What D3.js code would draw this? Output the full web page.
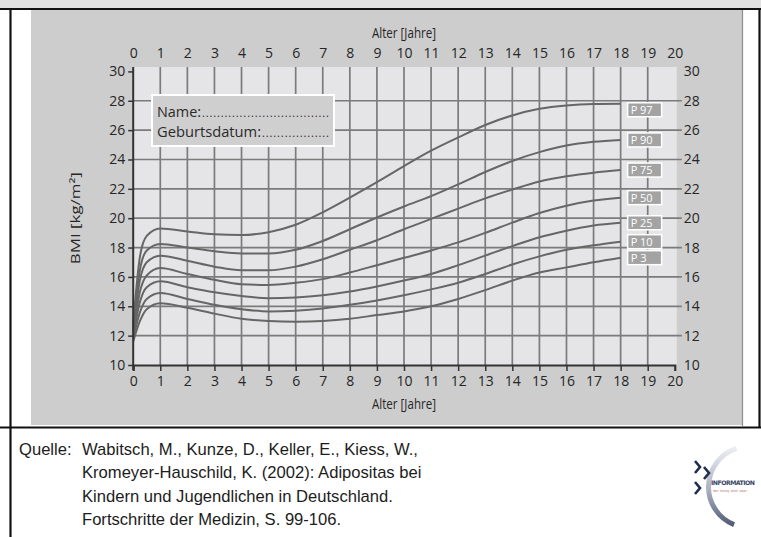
<!DOCTYPE html>
<html>
<head>
<meta charset="utf-8">
<script src="https://cdn.jsdelivr.net/npm/d3@7"></script>
<style>
  body { margin: 0; background: #ffffff; }
  svg { display: block; }
</style>
</head>
<body>
<svg id="chart" width="761" height="537"></svg>
<script>
// BMI percentile curves (Kromeyer-Hauschild), age in years
const ages = [0, 0.25, 0.5, 1, 2, 3, 4, 5, 6, 7, 8, 9, 10, 11, 12, 13, 14, 15, 16, 17, 18];
const p3  = [11.6, 13.0, 13.8, 14.2, 13.9, 13.5, 13.15, 13.0, 12.95, 13.0, 13.15, 13.4, 13.65, 14.0, 14.5, 15.1, 15.75, 16.3, 16.65, 17.0, 17.31];
const p10 = [11.8, 13.6, 14.5, 14.9, 14.5, 14.1, 13.8, 13.65, 13.7, 13.85, 14.1, 14.4, 14.75, 15.15, 15.6, 16.2, 16.85, 17.4, 17.85, 18.15, 18.4];
const p25 = [12.0, 14.3, 15.3, 15.7, 15.3, 14.95, 14.7, 14.55, 14.6, 14.75, 15.0, 15.35, 15.75, 16.2, 16.8, 17.45, 18.1, 18.7, 19.15, 19.5, 19.69];
const p50 = [12.2, 15.0, 16.1, 16.6, 16.2, 15.8, 15.5, 15.45, 15.6, 15.85, 16.3, 16.8, 17.3, 17.8, 18.35, 19.0, 19.7, 20.35, 20.85, 21.2, 21.4];
const p75 = [12.4, 15.8, 17.0, 17.45, 17.1, 16.7, 16.45, 16.45, 16.7, 17.2, 17.85, 18.5, 19.25, 19.95, 20.65, 21.35, 21.95, 22.5, 22.85, 23.1, 23.28];
const p90 = [12.6, 16.5, 17.8, 18.25, 18.0, 17.75, 17.6, 17.6, 17.85, 18.45, 19.25, 20.05, 20.8, 21.5, 22.3, 23.15, 23.9, 24.5, 24.95, 25.2, 25.33];
const p97 = [12.8, 17.4, 18.8, 19.3, 19.1, 18.9, 18.85, 19.05, 19.55, 20.4, 21.4, 22.45, 23.55, 24.6, 25.5, 26.35, 27.0, 27.45, 27.68, 27.78, 27.8];

const seriesNames = ["P 3", "P 10", "P 25", "P 50", "P 75", "P 90", "P 97"];
const seriesValues = [p3, p10, p25, p50, p75, p90, p97];

const xTicks = d3.range(0, 21);            // 0 .. 20 years
const yTicks = d3.range(10, 31, 2);         // 10 .. 30 kg/m²
const xTitle = "Alter [Jahre]";
const yTitle = "BMI [kg/m²]";
const nameLines = ["Name:", "Geburtsdatum:"];
const sourceLines = [
  "Wabitsch, M., Kunze, D., Keller, E., Kiess, W.,",
  "Kromeyer-Hauschild, K. (2002): Adipositas bei",
  "Kindern und Jugendlichen in Deutschland.",
  "Fortschritte der Medizin, S. 99-106."
];

const svg = d3.select("#chart");
const FONT = "'Open Sans', 'Noto Sans', sans-serif";

const x = d3.scaleLinear().domain([0, 20]).range([133.2, 674.8]);
const y = d3.scaleLinear().domain([10, 30]).range([365, 71.4]);

const plotTop = y(30) - 4.4;
const plotRight = x(20) + 2;

// frame
svg.append("rect").attr("x", 0).attr("y", 0).attr("width", 761).attr("height", 8.5).attr("fill", "#e1e1e1");
svg.append("rect").attr("x", 31).attr("y", 10).attr("width", 711).attr("height", 415).attr("fill", "#cdcdcd");
svg.append("line").attr("x1", 742.5).attr("x2", 742.5).attr("y1", 10).attr("y2", 426).attr("stroke", "#8c8c8c").attr("stroke-width", 1.2);
svg.append("line").attr("x1", 0).attr("x2", 761).attr("y1", 9).attr("y2", 9).attr("stroke", "#111").attr("stroke-width", 2.2);
svg.append("line").attr("x1", 0).attr("x2", 761).attr("y1", 427.5).attr("y2", 427.5).attr("stroke", "#111").attr("stroke-width", 2.2);
svg.append("line").attr("x1", 10.5).attr("x2", 10.5).attr("y1", 8).attr("y2", 537).attr("stroke", "#111").attr("stroke-width", 2.2);
svg.append("line").attr("x1", 759.5).attr("x2", 759.5).attr("y1", 8).attr("y2", 428).attr("stroke", "#111").attr("stroke-width", 2.2);

// plot background
svg.append("rect")
  .attr("x", x(0)).attr("y", plotTop)
  .attr("width", plotRight - x(0)).attr("height", y(10) - plotTop)
  .attr("fill", "#e5e5e7");

const grid = svg.append("g").attr("stroke", "#7b7b7b").attr("stroke-width", 1.7);
grid.selectAll("line.v").data(xTicks.filter(d => d > 0 && d < 20)).join("line")
  .attr("class", "v")
  .attr("x1", d => x(d)).attr("x2", d => x(d))
  .attr("y1", plotTop).attr("y2", y(10));
grid.selectAll("line.h").data(yTicks.filter(d => d > 10 && d < 30)).join("line")
  .attr("class", "h")
  .attr("x1", x(0)).attr("x2", plotRight + 5)
  .attr("y1", d => y(d)).attr("y2", d => y(d));

// percentile curves
const line = d3.line()
  .x(d => x(d[0]))
  .y(d => y(d[1]))
  .curve(d3.curveMonotoneX);

svg.append("g").selectAll("path").data(seriesValues).join("path")
  .attr("d", vals => line(ages.map((a, i) => [a, vals[i]])))
  .attr("fill", "none")
  .attr("stroke", "#666")
  .attr("stroke-width", 2);

// percentile tags at the curve ends
const tagW = 34, tagH = 14;
const tags = svg.append("g").selectAll("g").data(seriesNames).join("g")
  .attr("transform", (d, i) => {
    const endY = y(seriesValues[i][seriesValues[i].length - 1]);
    const top = Math.max(endY - tagH / 2, y(28) + 2);
    return `translate(${x(18) + 7},${top})`;
  });
tags.append("rect")
  .attr("width", tagW).attr("height", tagH)
  .attr("fill", "#a3a3a3").attr("stroke", "#ffffff").attr("stroke-width", 1.5);
tags.append("text")
  .attr("x", 3).attr("y", 11)
  .attr("font-family", FONT).attr("font-size", 11)
  .attr("fill", "#ffffff")
  .attr("textLength", d => d.length > 3 ? 22 : 16)
  .attr("lengthAdjust", "spacingAndGlyphs")
  .text(d => d);

// axes
const axisFont = g => g.selectAll("text").attr("font-family", FONT).attr("font-size", 14).attr("fill", "#262626");

const leftAxis = svg.append("g")
  .attr("transform", `translate(${x(0)},0)`)
  .call(d3.axisLeft(y).tickValues(yTicks).tickSize(5).tickPadding(3))
  .call(axisFont);
leftAxis.select(".domain").remove();
leftAxis.selectAll(".tick line").attr("stroke", "#333").attr("stroke-width", 1.5);
svg.append("line").attr("x1", x(0)).attr("x2", x(0)).attr("y1", plotTop).attr("y2", y(10) + 5)
  .attr("stroke", "#333").attr("stroke-width", 2);

const rightAxis = svg.append("g")
  .attr("transform", `translate(${plotRight + 5},0)`)
  .call(d3.axisRight(y).tickValues(yTicks).tickSize(0).tickPadding(2))
  .call(axisFont);
rightAxis.select(".domain").remove();

const bottomAxis = svg.append("g")
  .attr("transform", `translate(0,${y(10)})`)
  .call(d3.axisBottom(x).tickValues(xTicks).tickSize(6).tickPadding(5))
  .call(axisFont);
bottomAxis.select(".domain").attr("stroke", "#333").attr("stroke-width", 2);
bottomAxis.selectAll(".tick line").attr("stroke", "#333").attr("stroke-width", 1.5);

const topAxis = svg.append("g")
  .attr("transform", `translate(0,${plotTop - 9})`)
  .call(d3.axisTop(x).tickValues(xTicks).tickSize(0).tickPadding(0))
  .call(axisFont);
topAxis.select(".domain").remove();

// axis titles
svg.append("text").attr("x", x(10)).attr("y", 38)
  .attr("text-anchor", "middle").attr("font-family", FONT).attr("font-size", 14).attr("fill", "#262626")
  .attr("textLength", 64).attr("lengthAdjust", "spacingAndGlyphs")
  .text(xTitle);
svg.append("text").attr("x", x(10)).attr("y", 409)
  .attr("text-anchor", "middle").attr("font-family", FONT).attr("font-size", 14).attr("fill", "#262626")
  .attr("textLength", 64).attr("lengthAdjust", "spacingAndGlyphs")
  .text(xTitle);
svg.append("text")
  .attr("transform", `translate(80,${y(20)}) rotate(-90)`)
  .attr("text-anchor", "middle").attr("font-family", FONT).attr("font-size", 13).attr("fill", "#262626")
  .attr("textLength", 92).attr("lengthAdjust", "spacingAndGlyphs")
  .text(yTitle);

// name / birth date box
const nb = svg.append("g").attr("transform", "translate(152,95)");
nb.append("rect").attr("width", 182).attr("height", 51)
  .attr("fill", "#cfcfcf").attr("stroke", "#ffffff").attr("stroke-width", 2);
nb.selectAll("text.lbl").data(nameLines).join("text")
  .attr("class", "lbl")
  .attr("x", 5).attr("y", (d, i) => 22 + i * 20)
  .attr("font-family", FONT).attr("font-size", 15).attr("fill", "#2a2a2a")
  .attr("textLength", (d, i) => i === 0 ? 44 : 104)
  .attr("lengthAdjust", "spacingAndGlyphs")
  .text(d => d);
nb.selectAll("text.dots").data(nameLines).join("text")
  .attr("class", "dots")
  .attr("x", (d, i) => i === 0 ? 50 : 110).attr("y", (d, i) => 22 + i * 20)
  .attr("font-family", FONT).attr("font-size", 11).attr("fill", "#2a2a2a")
  .attr("textLength", (d, i) => i === 0 ? 127 : 67)
  .attr("lengthAdjust", "spacing")
  .text((d, i) => ".".repeat(i === 0 ? 34 : 18));

// source note
const src = svg.append("g").attr("font-family", "'Liberation Sans', Arial, sans-serif").attr("font-size", 16.6).attr("fill", "#1c1c1c");
src.append("text").attr("x", 19).attr("y", 455).text("Quelle:");
src.selectAll("text.s").data(sourceLines).join("text")
  .attr("class", "s")
  .attr("x", 82).attr("y", (d, i) => 455 + i * 23.4)
  .text(d => d);

// logo
const logo = svg.append("g");
const defs = svg.append("defs");
const grad = defs.append("linearGradient").attr("id", "arcGrad").attr("x1", 0).attr("y1", 0).attr("x2", 0).attr("y2", 1);
grad.append("stop").attr("offset", "0%").attr("stop-color", "#eef0f4");
grad.append("stop").attr("offset", "55%").attr("stop-color", "#aab0bf");
grad.append("stop").attr("offset", "100%").attr("stop-color", "#4e5874");
logo.append("path")
  .attr("transform", "translate(749,487)")
  .attr("d", d3.arc().innerRadius(38).outerRadius(43).startAngle(-Math.PI * 0.88).endAngle(-Math.PI * 0.1)())
  .attr("fill", "url(#arcGrad)");
const chev = [[695, 461], [704, 467], [695, 482]];
logo.selectAll("path.c").data(chev).join("path")
  .attr("class", "c")
  .attr("d", d => `M${d[0]},${d[1]} L${d[0] + 5},${d[1] + 6} L${d[0]},${d[1] + 12}`)
  .attr("fill", "none").attr("stroke", "#1f2c4c").attr("stroke-width", 2.6);
logo.append("text").attr("x", 711).attr("y", 485)
  .attr("font-family", "'DejaVu Sans', sans-serif").attr("font-size", 6.2).attr("font-weight", "bold")
  .attr("fill", "#3c4866").attr("textLength", 44).attr("lengthAdjust", "spacing")
  .text("INFORMATION");
logo.append("g")
  .attr("transform", "translate(712,491.5) scale(0.5,1)")
  .append("text")
  .attr("font-family", "'DejaVu Sans', sans-serif").attr("font-size", 3.6)
  .attr("fill", "#b06060")
  .text("· daten · forschung · statistik · analyse ·");
</script>
</body>
</html>
